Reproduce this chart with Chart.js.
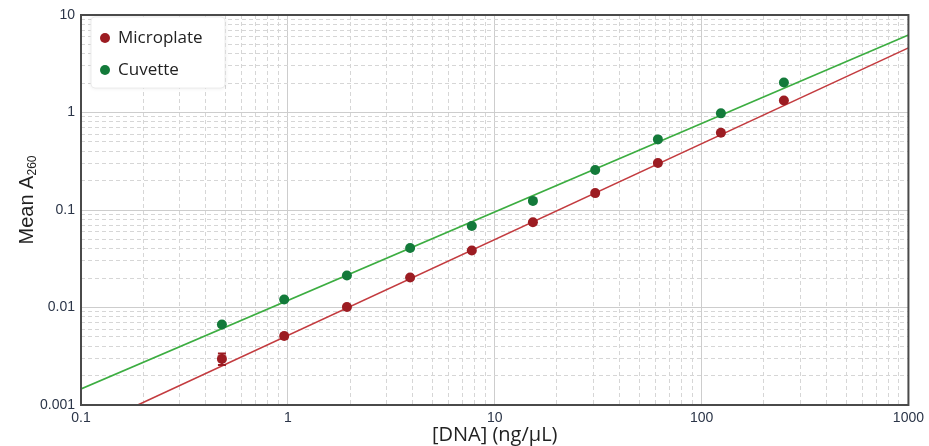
<!DOCTYPE html>
<html>
<head>
<meta charset="utf-8">
<script src="https://cdn.jsdelivr.net/npm/chart.js@4.4.1/dist/chart.umd.min.js"></script>
<style>
  body { margin: 0; background: #fff; }
  #wrap { width: 929px; height: 446px; }
</style>
</head>
<body>
<div id="wrap"><canvas id="myChart" width="929" height="446"></canvas></div>
<script>
// values
const concentrations = [0.48, 0.96, 1.93, 3.9, 7.75, 15.3, 30.6, 61.5, 124, 250]
const microplate = [0.00297, 0.0051, 0.0101, 0.0203, 0.0385, 0.075, 0.149, 0.304, 0.62, 1.33]
const microplateErr = [0.0004, 0.00028, 0.0003, 0, 0, 0, 0, 0, 0, 0]
const cuvette = [0.0067, 0.0121, 0.0213, 0.0407, 0.0685, 0.124, 0.257, 0.53, 0.98, 2.03]

// fitted lines (end points)
const microplateFitX = [0.188, 1000]
const microplateFitY = [0.001, 4.6]
const cuvetteFitX = [0.1, 1000]
const cuvetteFitY = [0.00146, 6.24]

const xTickLabels = ['0.1', '1', '10', '100', '1000']
const yTickLabels = ['0.001', '0.01', '0.1', '1', '10']

const red = '#9c1c22'
const redLine = '#c33b3f'
const green = '#137a3a'
const greenLine = '#3cad41'

function toPoints(xs, ys) {
    return xs.map((x, i) => ({x: x, y: ys[i]}))
}

function isDecade(v) {
    const l = Math.log10(v)
    return Math.abs(l - Math.round(l)) < 1e-6
}

function logTicks(min, max) {
    let ticks = []
    for (let e = Math.round(Math.log10(min)); e < Math.round(Math.log10(max)); e++) {
        for (let m = 1; m < 10; m++) {
            ticks.push({value: Number((m * Math.pow(10, e)).toPrecision(6))})
        }
    }
    ticks.push({value: max})
    return ticks
}

const gridColor = (ctx) => ctx.tick && isDecade(ctx.tick.value) ? '#cdcdcd' : '#d6d6d6'
const gridDash = (ctx) => ctx.tick && !isDecade(ctx.tick.value) ? [4, 3] : []

const frame = {
    id: 'frame',
    afterDraw(chart) {
        const {ctx, chartArea: a} = chart
        ctx.save()
        ctx.strokeStyle = '#4a4a4a'
        ctx.lineWidth = 2
        ctx.strokeRect(a.left, a.top, a.right - a.left, a.bottom - a.top)
        ctx.restore()
    }
}

// y title with a real subscript
const yTitle = {
    id: 'yTitle',
    afterDraw(chart) {
        const {ctx, chartArea: a} = chart
        const main = 'Mean A', sub = '260'
        ctx.save()
        ctx.translate(33, (a.top + a.bottom) / 2 - 10)
        ctx.rotate(-Math.PI / 2)
        ctx.fillStyle = '#222'
        ctx.textBaseline = 'alphabetic'
        ctx.font = '20px "Liberation Sans", Arial'
        const w1 = ctx.measureText(main).width
        ctx.font = '12px "Liberation Sans", Arial'
        const w2 = ctx.measureText(sub).width
        const x0 = -(w1 + w2) / 2
        ctx.font = '20px "Liberation Sans", Arial'
        ctx.fillText(main, x0, 0)
        ctx.font = '12px "Liberation Sans", Arial'
        ctx.fillText(sub, x0 + w1, 3)
        ctx.restore()
    }
}

const errorBars = {
    id: 'errorBars',
    afterDatasetsDraw(chart) {
        const {ctx, scales} = chart
        chart.data.datasets.forEach((ds) => {
            if (!ds.errors) return
            ctx.save()
            ctx.strokeStyle = ds.backgroundColor
            ctx.lineWidth = 2
            ds.data.forEach((p, i) => {
                const e = ds.errors[i]
                if (!e) return
                const x = scales.x.getPixelForValue(p.x)
                const y1 = scales.y.getPixelForValue(p.y + e)
                const y2 = scales.y.getPixelForValue(p.y - e)
                ctx.beginPath()
                ctx.moveTo(x, y1); ctx.lineTo(x, y2)
                ctx.moveTo(x - 4, y1); ctx.lineTo(x + 4, y1)
                ctx.moveTo(x - 4, y2); ctx.lineTo(x + 4, y2)
                ctx.stroke()
            })
            ctx.restore()
        })
    }
}

const boxLegend = {
    id: 'boxLegend',
    afterDatasetsDraw(chart) {
        const {ctx, chartArea: a} = chart
        const items = chart.data.datasets.filter(ds => ds.inLegend)
        const x = a.left + 10, y = a.top + 2
        ctx.save()
        ctx.shadowColor = 'rgba(0,0,0,0.10)'
        ctx.shadowBlur = 4
        ctx.fillStyle = '#fff'
        ctx.beginPath()
        ctx.roundRect(x, y, 134, 71, 4)
        ctx.fill()
        ctx.shadowColor = 'transparent'
        ctx.strokeStyle = '#ececec'
        ctx.lineWidth = 1
        ctx.stroke()
        ctx.font = '17px "Open Sans"'
        ctx.textBaseline = 'middle'
        items.forEach((ds, i) => {
            const cy = y + 21 + i * 32
            ctx.fillStyle = ds.backgroundColor
            ctx.beginPath()
            ctx.arc(x + 14, cy, 5, 0, Math.PI * 2)
            ctx.fill()
            ctx.fillStyle = '#222'
            ctx.fillText(ds.label, x + 27, cy)
        })
        ctx.restore()
    }
}

const ctx = document.getElementById('myChart')

const myChart = new Chart(ctx, {
    type: 'scatter',
    data: {
        datasets: [
            {
                label: 'Microplate',
                inLegend: true,
                data: toPoints(concentrations, microplate),
                errors: microplateErr,
                backgroundColor: red,
                borderColor: red,
                pointRadius: 5,
                pointBorderWidth: 0
            },
            {
                label: 'Cuvette',
                inLegend: true,
                data: toPoints(concentrations, cuvette),
                backgroundColor: green,
                borderColor: green,
                pointRadius: 5,
                pointBorderWidth: 0
            },
            {
                label: 'Microplate fit',
                data: toPoints(microplateFitX, microplateFitY),
                showLine: true,
                borderColor: redLine,
                backgroundColor: redLine,
                borderWidth: 1.6,
                pointRadius: 0
            },
            {
                label: 'Cuvette fit',
                data: toPoints(cuvetteFitX, cuvetteFitY),
                showLine: true,
                borderColor: greenLine,
                backgroundColor: greenLine,
                borderWidth: 1.6,
                pointRadius: 0
            }
        ]
    },
    options: {
        responsive: false,
        animation: false,
        events: [],
        layout: {
            padding: {top: 15, right: 19, bottom: 0, left: 0}
        },
        plugins: {
            legend: {display: false},
            tooltip: {enabled: false}
        },
        scales: {
            x: {
                type: 'logarithmic',
                min: 0.1,
                max: 1000,
                afterBuildTicks: (scale) => { scale.ticks = logTicks(0.1, 1000) },
                afterFit: (scale) => { scale.height = 41 },
                grid: {color: gridColor, drawTicks: false, lineWidth: 1},
                border: {display: false, dash: gridDash},
                ticks: {
                    autoSkip: false,
                    maxRotation: 0,
                    padding: 5,
                    color: '#2b3548',
                    font: {family: '"Liberation Sans", Arial', size: 14},
                    callback: (v) => xTickLabels.includes(String(v)) ? String(v) : ''
                },
                title: {
                    display: true,
                    text: '[DNA] (ng/μL)',
                    color: '#222',
                    padding: {top: 0, bottom: -1},
                    font: {family: '"Open Sans"', size: 20}
                }
            },
            y: {
                type: 'logarithmic',
                min: 0.001,
                max: 10,
                afterBuildTicks: (scale) => { scale.ticks = logTicks(0.001, 10) },
                afterFit: (scale) => { scale.width = 81 },
                grid: {color: gridColor, drawTicks: false, lineWidth: 1},
                border: {display: false, dash: gridDash},
                ticks: {
                    autoSkip: false,
                    padding: 6,
                    color: '#2b3548',
                    font: {family: '"Liberation Sans", Arial', size: 14},
                    callback: (v) => yTickLabels.includes(String(v)) ? String(v) : ''
                },
                title: {display: false}
            }
        }
    },
    plugins: [errorBars, boxLegend, frame, yTitle]
});
</script>
</body>
</html>
